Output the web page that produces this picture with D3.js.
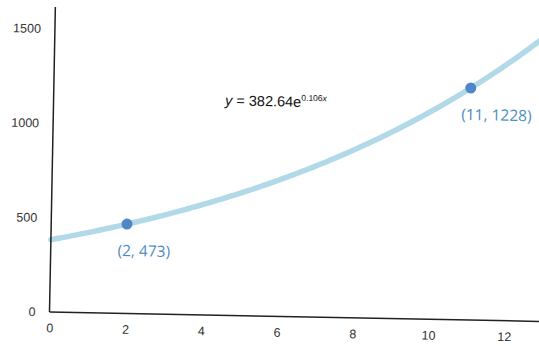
<!DOCTYPE html>
<html>
<head>
<meta charset="utf-8">
<script src="https://cdn.jsdelivr.net/npm/d3@7"></script>
<style>
  html, body { margin: 0; padding: 0; background: #ffffff; }
  svg { display: block; }
</style>
</head>
<body>
<svg id="chart" width="539" height="346"></svg>
<script>
// Exponential model y = a * e^(b x) and two highlighted points on it
const coefA = 382.64;
const coefB = 0.106;
const pointX = [2, 11];
const pointY = [473, 1228];
const xTicks = [0, 2, 4, 6, 8, 10, 12];
const yTicks = [0, 500, 1000, 1500];

const svg = d3.select("#chart");

// Plot frame, slightly tilted like a photographed page
const g = svg.append("g")
  .attr("transform", "translate(49.5,312) rotate(1.1)");

const x = d3.scaleLinear().domain([0, 13]).range([0, 492.7]);
const y = d3.scaleLinear().domain([0, 1500]).range([0, -283.4]);

// Fitted curve
const curveData = d3.range(0, 14.01, 0.1).map(v => [v, coefA * Math.exp(coefB * v)]);
g.append("path")
  .datum(curveData)
  .attr("fill", "none")
  .attr("stroke", "#b2d9e8")
  .attr("stroke-width", 5.5)
  .attr("stroke-linecap", "round")
  .attr("d", d3.line().x(d => x(d[0])).y(d => y(d[1])).curve(d3.curveBasis));

// Axes
const xAxis = d3.axisBottom(x).tickValues(xTicks).tickSize(0).tickPadding(11.5)
  .tickFormat(d3.format("d"));
const yAxis = d3.axisLeft(y).tickValues(yTicks).tickSize(0).tickPadding(14)
  .tickFormat(d3.format("d"));

const gx = g.append("g").call(xAxis);
const gy = g.append("g").call(yAxis);
[gx, gy].forEach(a => {
  a.select(".domain").remove();
  a.selectAll("text")
    .attr("fill", "#333")
    .style("font-family", "'Liberation Sans', Arial, sans-serif")
    .style("font-size", "12.5px");
});

g.append("line")
  .attr("x1", 0).attr("y1", 0).attr("x2", 0).attr("y2", y(1615))
  .attr("stroke", "#222").attr("stroke-width", 1.5);
g.append("line")
  .attr("x1", 0).attr("y1", 0).attr("x2", x(13.2)).attr("y2", 0)
  .attr("stroke", "#222").attr("stroke-width", 1.5);

// Highlighted points and their coordinate labels
const pts = pointX.map((v, i) => ({ x: v, y: pointY[i] }));

g.selectAll("circle.pt")
  .data(pts)
  .enter().append("circle")
  .attr("class", "pt")
  .attr("cx", d => x(d.x))
  .attr("cy", d => y(d.y))
  .attr("r", 5.5)
  .attr("fill", "#4f87c8");

g.selectAll("text.pt-label")
  .data(pts)
  .enter().append("text")
  .attr("class", "pt-label")
  .attr("x", d => x(d.x) - 9)
  .attr("y", d => y(d.y) + 32)
  .attr("fill", "#4a8bbf")
  .style("font-family", "'Open Sans', 'Liberation Sans', sans-serif")
  .style("font-size", "15.5px")
  .text(d => `(${d.x}, ${d.y})`);

// Equation of the curve
const eq = g.append("text")
  .attr("x", 171.5)
  .attr("y", -210)
  .attr("fill", "#111")
  .style("font-family", "'Liberation Sans', Arial, sans-serif")
  .style("font-size", "14.5px");
eq.append("tspan").style("font-style", "italic").text("y");
eq.append("tspan").text(` = ${coefA}e`);
eq.append("tspan")
  .attr("dy", -6)
  .style("font-size", "8.5px")
  .text(`${coefB}`);
eq.append("tspan")
  .style("font-size", "8.5px")
  .style("font-style", "italic")
  .text("x");
</script>
</body>
</html>
